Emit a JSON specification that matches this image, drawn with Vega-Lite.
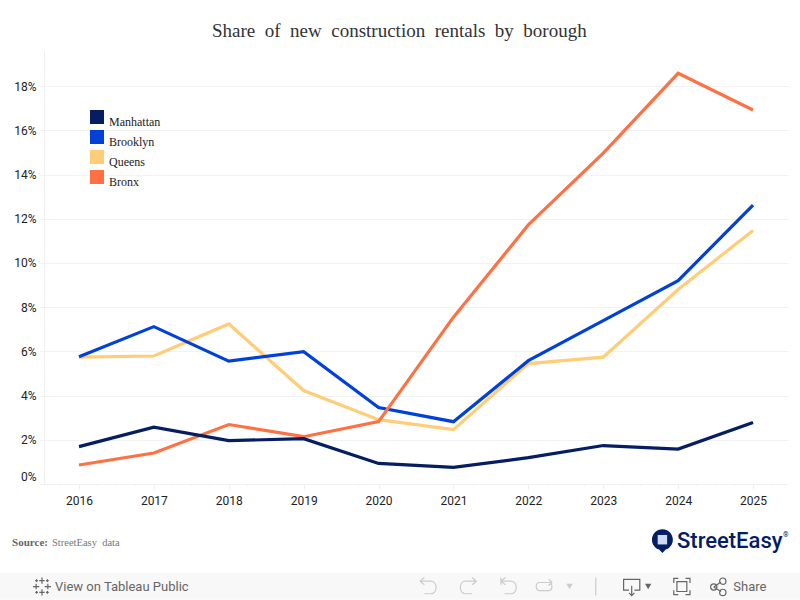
{"$schema":"https://vega.github.io/schema/vega-lite/v6.json","width":744,"height":433,"autosize":{"type":"none"},"padding":{"left":44,"top":51,"right":12,"bottom":116},"background":"white","title":{"text":"Share\u00a0 of\u00a0 new\u00a0 construction\u00a0 rentals\u00a0 by\u00a0 borough","font":"Liberation Serif","fontSize":19,"fontWeight":"normal","color":"#333333","anchor":"start","frame":"group","dx":168,"offset":10},"config":{"view":{"stroke":null}},"datasets":{"rows":[{"borough":"Queens","year":2016,"share":5.74},{"borough":"Queens","year":2017,"share":5.79},{"borough":"Queens","year":2018,"share":7.24},{"borough":"Queens","year":2019,"share":4.23},{"borough":"Queens","year":2020,"share":2.91},{"borough":"Queens","year":2021,"share":2.46},{"borough":"Queens","year":2022,"share":5.45},{"borough":"Queens","year":2023,"share":5.74},{"borough":"Queens","year":2024,"share":8.8},{"borough":"Queens","year":2025,"share":11.47},{"borough":"Brooklyn","year":2016,"share":5.76},{"borough":"Brooklyn","year":2017,"share":7.12},{"borough":"Brooklyn","year":2018,"share":5.56},{"borough":"Brooklyn","year":2019,"share":5.99},{"borough":"Brooklyn","year":2020,"share":3.46},{"borough":"Brooklyn","year":2021,"share":2.82},{"borough":"Brooklyn","year":2022,"share":5.58},{"borough":"Brooklyn","year":2023,"share":7.39},{"borough":"Brooklyn","year":2024,"share":9.2},{"borough":"Brooklyn","year":2025,"share":12.62},{"borough":"Bronx","year":2016,"share":0.86},{"borough":"Bronx","year":2017,"share":1.4},{"borough":"Bronx","year":2018,"share":2.69},{"borough":"Bronx","year":2019,"share":2.14},{"borough":"Bronx","year":2020,"share":2.82},{"borough":"Bronx","year":2021,"share":7.55},{"borough":"Bronx","year":2022,"share":11.72},{"borough":"Bronx","year":2023,"share":14.97},{"borough":"Bronx","year":2024,"share":18.58},{"borough":"Bronx","year":2025,"share":16.92},{"borough":"Manhattan","year":2016,"share":1.69},{"borough":"Manhattan","year":2017,"share":2.57},{"borough":"Manhattan","year":2018,"share":1.96},{"borough":"Manhattan","year":2019,"share":2.05},{"borough":"Manhattan","year":2020,"share":0.93},{"borough":"Manhattan","year":2021,"share":0.75},{"borough":"Manhattan","year":2022,"share":1.19},{"borough":"Manhattan","year":2023,"share":1.74},{"borough":"Manhattan","year":2024,"share":1.58},{"borough":"Manhattan","year":2025,"share":2.78}]},"layer":[{"data":{"values":[{"y":2014.9,"y2":2025.7,"s":-4.01,"s2":-5.24}]},"mark":{"type":"rect","color":"#f8f8f8","clip":false},"encoding":{"x":{"field":"y","type":"quantitative","scale":{"domain":[2015.533,2025.467],"nice":false,"zero":false},"axis":{"title":null,"orient":"bottom","values":[2016,2017,2018,2019,2020,2021,2022,2023,2024,2025],"format":"d","grid":false,"domainColor":"#f0f0f0","tickColor":"#f0f0f0","tickSize":5,"labelFont":"Roboto","labelFontSize":12,"labelColor":"#222222","labelPadding":6,"labelOverlap":false,"labelFlush":false}},"x2":{"field":"y2"},"y":{"field":"s","type":"quantitative","scale":{"domain":[0,19.59],"nice":false},"axis":{"title":null,"values":[0,2,4,6,8,10,12,14,16,18],"labelExpr":"datum.value + '%'","gridColor":"#f2f2f2","domainColor":"#f0f0f0","tickColor":"#f0f0f0","tickSize":5,"labelFont":"Roboto","labelFontSize":12,"labelColor":"#222222","labelPadding":3,"labelOffset":{"condition":{"test":"datum.value === 0","value":-8},"value":0}}},"y2":{"field":"s2"}}},{"data":{"values":[{"year":2015.75,"low":0,"high":-0.1},{"year":2016.25,"low":0,"high":-0.1},{"year":2016.5,"low":0,"high":-0.1},{"year":2016.75,"low":0,"high":-0.1},{"year":2017.25,"low":0,"high":-0.1},{"year":2017.5,"low":0,"high":-0.1},{"year":2017.75,"low":0,"high":-0.1},{"year":2018.25,"low":0,"high":-0.1},{"year":2018.5,"low":0,"high":-0.1},{"year":2018.75,"low":0,"high":-0.1},{"year":2019.25,"low":0,"high":-0.1},{"year":2019.5,"low":0,"high":-0.1},{"year":2019.75,"low":0,"high":-0.1},{"year":2020.25,"low":0,"high":-0.1},{"year":2020.5,"low":0,"high":-0.1},{"year":2020.75,"low":0,"high":-0.1},{"year":2021.25,"low":0,"high":-0.1},{"year":2021.5,"low":0,"high":-0.1},{"year":2021.75,"low":0,"high":-0.1},{"year":2022.25,"low":0,"high":-0.1},{"year":2022.5,"low":0,"high":-0.1},{"year":2022.75,"low":0,"high":-0.1},{"year":2023.25,"low":0,"high":-0.1},{"year":2023.5,"low":0,"high":-0.1},{"year":2023.75,"low":0,"high":-0.1},{"year":2024.25,"low":0,"high":-0.1},{"year":2024.5,"low":0,"high":-0.1},{"year":2024.75,"low":0,"high":-0.1},{"year":2025.25,"low":0,"high":-0.1}]},"mark":{"type":"rule","color":"#f0f0f0","strokeWidth":1,"clip":false},"encoding":{"x":{"field":"year","type":"quantitative"},"y":{"field":"low","type":"quantitative"},"y2":{"field":"high"}}},{"data":{"name":"rows"},"mark":{"type":"point","filled":true,"shape":"square","opacity":0,"size":1},"encoding":{"x":{"field":"year","type":"quantitative"},"y":{"field":"share","type":"quantitative"},"color":{"field":"borough","type":"nominal","sort":null,"scale":{"domain":["Manhattan","Brooklyn","Queens","Bronx"],"range":["#041d63","#0041d9","#ffcc78","#ff7043"]},"legend":{"title":null,"orient":"none","legendX":46,"legendY":59,"symbolType":"square","symbolSize":196,"symbolOpacity":1,"symbolStrokeWidth":0,"rowPadding":2,"labelFont":"Liberation Serif","labelFontSize":12,"labelColor":"#222222","labelOffset":5,"labelBaseline":"top"}}}},{"data":{"name":"rows"},"mark":{"type":"line","strokeWidth":3.2,"strokeJoin":"miter"},"encoding":{"x":{"field":"year","type":"quantitative"},"y":{"field":"share","type":"quantitative"},"color":{"field":"borough","type":"nominal","sort":null,"legend":null}}},{"data":{"values":[{"year":2015.107,"share":-2.65,"label":"Source:"}]},"mark":{"type":"text","align":"left","baseline":"middle","font":"Liberation Serif","fontSize":11,"fontWeight":"bold","color":"#666666","clip":false},"encoding":{"x":{"field":"year","type":"quantitative"},"y":{"field":"share","type":"quantitative"},"text":{"field":"label"}}},{"data":{"values":[{"year":2015.64,"share":-2.65,"label":"StreetEasy\u00a0 data"}]},"mark":{"type":"text","align":"left","baseline":"middle","font":"Liberation Serif","fontSize":10.5,"color":"#777777","clip":false},"encoding":{"x":{"field":"year","type":"quantitative"},"y":{"field":"share","type":"quantitative"},"text":{"field":"label"}}},{"data":{"values":[{"year":2023.985,"share":-2.58,"label":"StreetEasy"}]},"mark":{"type":"text","align":"left","baseline":"middle","font":"Roboto","fontSize":22,"fontWeight":500,"color":"#041d63","clip":false},"encoding":{"x":{"field":"year","type":"quantitative"},"y":{"field":"share","type":"quantitative"},"text":{"field":"label"}}},{"data":{"values":[{"year":2025.4,"share":-2.3,"label":"®"}]},"mark":{"type":"text","align":"left","baseline":"middle","font":"Roboto","fontSize":7,"color":"#041d63","clip":false},"encoding":{"x":{"field":"year","type":"quantitative"},"y":{"field":"share","type":"quantitative"},"text":{"field":"label"}}},{"data":{"values":[{"year":2015.68,"share":-4.64,"label":"View on Tableau Public"},{"year":2024.737,"share":-4.64,"label":"Share"}]},"mark":{"type":"text","align":"left","baseline":"middle","font":"Roboto","fontSize":13,"color":"#666666","clip":false},"encoding":{"x":{"field":"year","type":"quantitative"},"y":{"field":"share","type":"quantitative"},"text":{"field":"label"}}},{"data":{"values":[{"year":2015.506,"share":-4.64,"icon":"tableau","state":"on"},{"year":2020.66,"share":-4.64,"icon":"undo","state":"off"},{"year":2021.2,"share":-4.64,"icon":"redo","state":"off"},{"year":2021.73,"share":-4.64,"icon":"revert","state":"off"},{"year":2022.21,"share":-4.64,"icon":"refresh","state":"off"},{"year":2022.9,"share":-4.64,"icon":"sep","state":"off"},{"year":2023.38,"share":-4.64,"icon":"download","state":"on"},{"year":2024.05,"share":-4.64,"icon":"full","state":"on"},{"year":2024.53,"share":-4.64,"icon":"share","state":"on"}]},"mark":{"type":"point","filled":false,"strokeWidth":1.2,"opacity":1,"clip":false},"encoding":{"x":{"field":"year","type":"quantitative"},"y":{"field":"share","type":"quantitative"},"size":{"value":324},"shape":{"field":"icon","type":"nominal","legend":null,"scale":{"domain":["tableau","undo","redo","revert","refresh","sep","download","full","share"],"range":["M0,-1 V-0.3 M-0.3,-0.65 H0.3 M0,0.3 V1 M-0.3,0.65 H0.3 M-1,0 H-0.3 M-0.65,-0.3 V0.3 M0.3,0 H1 M0.65,-0.3 V0.3 M-0.6,-0.8 V-0.5 M-0.75,-0.65 H-0.45 M0.6,-0.8 V-0.5 M0.45,-0.65 H0.75 M-0.6,0.5 V0.8 M-0.75,0.65 H-0.45 M0.6,0.5 V0.8 M0.45,0.65 H0.75","M-0.9,-0.6 H0.3 C1.1,-0.6 1.1,0.8 0.3,0.8 H-0.4 M-0.9,-0.6 L-0.4,-1 M-0.9,-0.6 L-0.4,-0.2","M0.9,-0.6 H-0.3 C-1.1,-0.6 -1.1,0.8 -0.3,0.8 H0.4 M0.9,-0.6 L0.4,-1 M0.9,-0.6 L0.4,-0.2","M-0.8,-1 V-0.2 M-0.8,-0.6 H0.3 C1.1,-0.6 1.1,0.8 0.3,0.8 H-0.4 M-0.8,-0.6 L-0.3,-1 M-0.8,-0.6 L-0.3,-0.2","M0.9,-0.45 H-0.5 C-1,-0.45 -1,0.45 -0.5,0.45 H0.5 C1,0.45 1,-0.45 0.5,-0.45 M0.9,-0.45 L0.5,-0.8 M0.9,-0.45 L0.5,-0.1","M0,-1 V1","M-0.3,0.4 H-0.9 V-0.8 H0.9 V0.4 H0.3 M0,-0.1 V1 M-0.3,0.7 L0,1 L0.3,0.7","M-0.4,-0.9 H-0.9 V-0.4 M0.4,-0.9 H0.9 V-0.4 M-0.4,0.9 H-0.9 V0.4 M0.4,0.9 H0.9 V0.4 M-0.55,-0.55 H0.55 V0.55 H-0.55 Z","M-0.45,0.05 L0.35,-0.5 M-0.45,0.05 L0.35,0.55 M-0.45,0.05 m-0.35,0 a0.35,0.35 0 1 0 0.7,0 a0.35,0.35 0 1 0 -0.7,0 M0.55,-0.6 m-0.35,0 a0.35,0.35 0 1 0 0.7,0 a0.35,0.35 0 1 0 -0.7,0 M0.55,0.65 m-0.35,0 a0.35,0.35 0 1 0 0.7,0 a0.35,0.35 0 1 0 -0.7,0"]}},"stroke":{"field":"state","type":"nominal","legend":null,"scale":{"domain":["on","off"],"range":["#666666","#cccccc"]}}}},{"data":{"values":[{"year":2022.55,"share":-4.64}]},"mark":{"type":"point","filled":true,"shape":"triangle-down","size":40,"color":"#cccccc","opacity":1,"clip":false},"encoding":{"x":{"field":"year","type":"quantitative"},"y":{"field":"share","type":"quantitative"}}},{"data":{"values":[{"year":2023.6,"share":-4.64}]},"mark":{"type":"point","filled":true,"shape":"triangle-down","size":40,"color":"#666666","opacity":1,"clip":false},"encoding":{"x":{"field":"year","type":"quantitative"},"y":{"field":"share","type":"quantitative"}}},{"data":{"values":[{"year":2023.79,"share":-2.52}]},"mark":{"type":"point","filled":true,"shape":"M-0.95,0 A0.95,0.95 0 1 1 0.95,0 A0.95,0.95 0 0 1 0.3,0.9 L0,1.2 L-0.3,0.9 A0.95,0.95 0 0 1 -0.95,0 Z","size":484,"color":"#041d63","opacity":1,"clip":false},"encoding":{"x":{"field":"year","type":"quantitative"},"y":{"field":"share","type":"quantitative"}}},{"data":{"values":[{"year":2023.79,"share":-2.52}]},"mark":{"type":"point","filled":true,"shape":"square","size":90,"color":"#cfd8ee","opacity":1,"clip":false},"encoding":{"x":{"field":"year","type":"quantitative"},"y":{"field":"share","type":"quantitative"}}}]}
